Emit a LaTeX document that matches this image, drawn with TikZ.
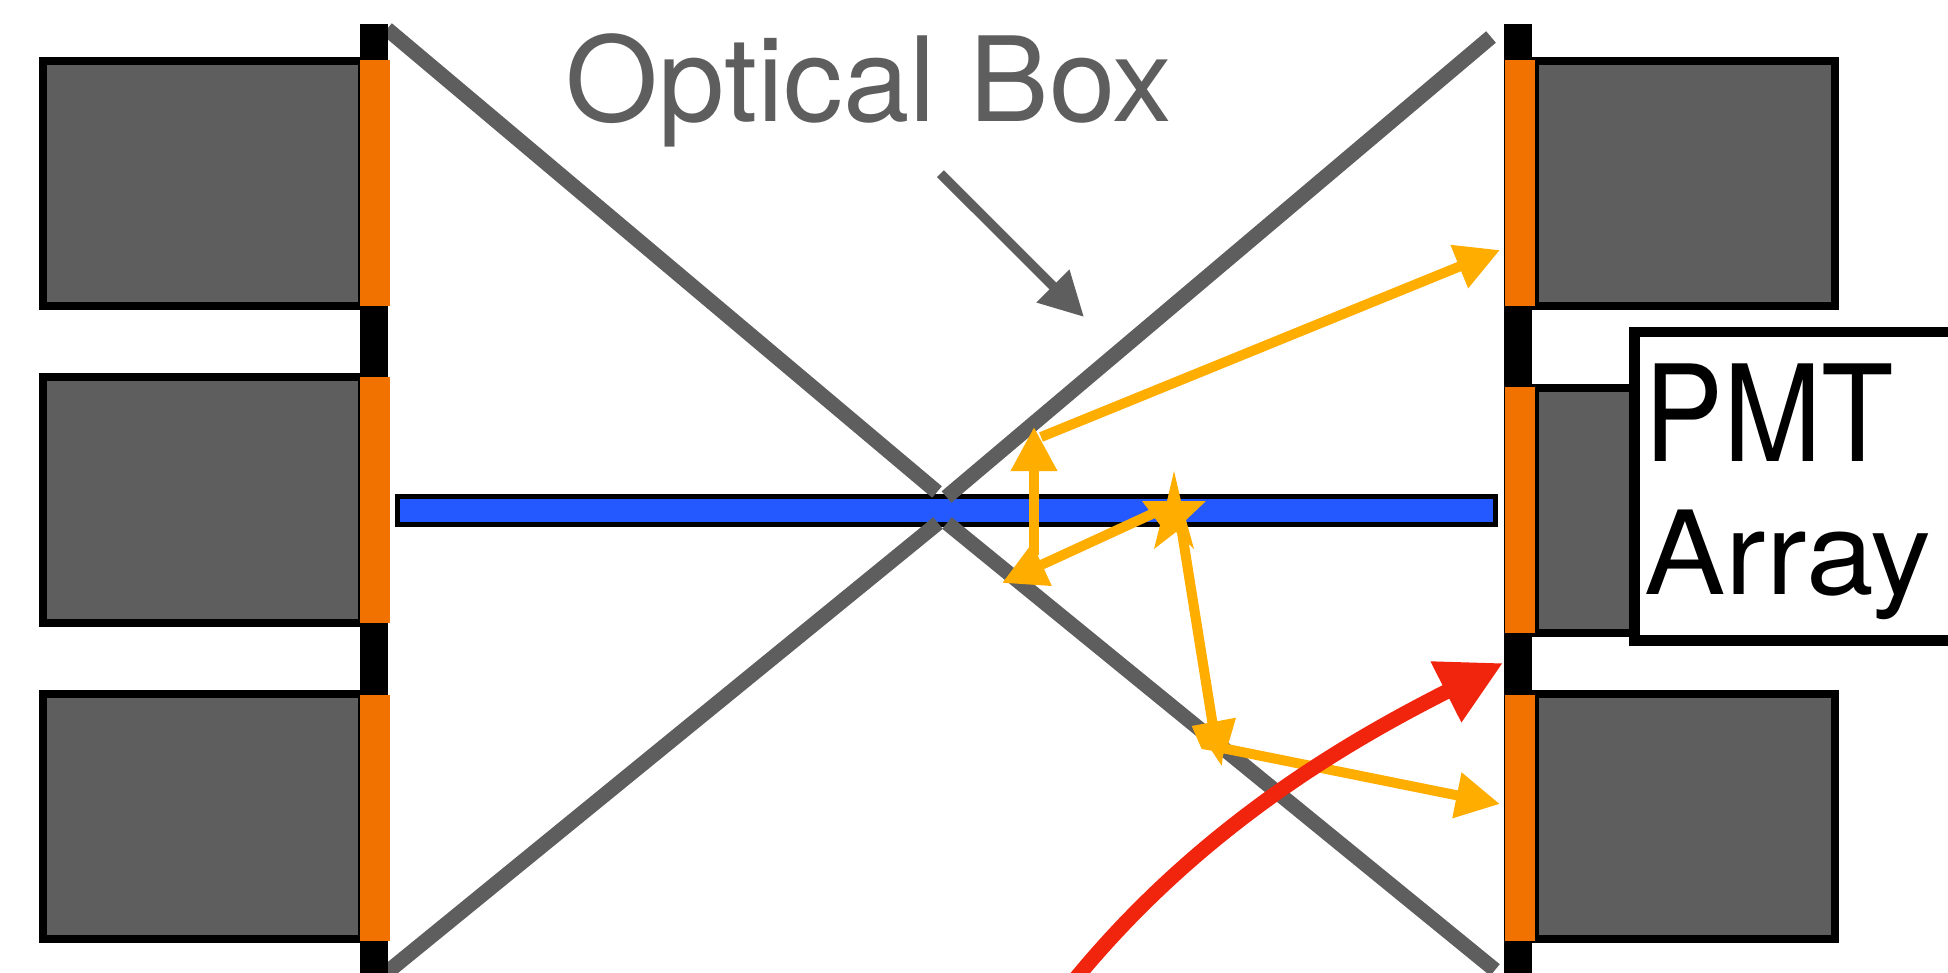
\documentclass[tikz,border=0pt]{standalone}
\usepackage{fontspec}
\setmainfont{TeX Gyre Heros}
\usetikzlibrary{arrows.meta}
\definecolor{cgray}{HTML}{5E5E5E}
\definecolor{corange}{HTML}{F27200}
\definecolor{cblue}{HTML}{2459FF}
\definecolor{cyellow}{HTML}{FFAE00}
\definecolor{cred}{HTML}{F1240D}
\tikzset{
  barst/.style={fill=black,draw=none},
  winst/.style={fill=corange,draw=none},
  pmtst/.style={fill=cgray,draw=black,line width=4pt},
  mirror/.style={draw=cgray,line width=7.5pt},
  rayline/.style={draw=cyellow,line width=5pt},
  ray/.style={rayline,-{Triangle[length=22pt,width=22pt]},color=cyellow},
  rayhead/.style={fill=cyellow,draw=none},
}
\begin{document}
\begin{tikzpicture}[x=0.5pt,y=-0.5pt]
\clip (0,0) rectangle (1948,973);
\fill[white] (0,0) rectangle (1948,973);
% blue plate
\draw[fill=cblue,draw=black,line width=2.65pt] (397.5,496.5) rectangle (1495.5,524.5);
% mirrors
\coordinate (la) at (387,29);
\coordinate (lb) at (937,492);
\coordinate (ra) at (1491,37);
\coordinate (rb) at (946.5,497);
\coordinate (lc) at (380,978);
\coordinate (ld) at (938,523);
\coordinate (rc) at (947,523);
\coordinate (rd) at (1495,970);
\draw[mirror] (la) -- (lb);
\draw[mirror] (ra) -- (rb);
\draw[mirror] (lc) -- (ld);
\draw[mirror] (rc) -- (rd);
% gray boxes
\foreach \ya/\yb in {61/306,376.5/623,694/939}{
  \draw[pmtst] (43,\ya) rectangle (362,\yb);
}
\foreach \ya/\yb in {61/306,388/633,694/939}{
  \draw[pmtst] (1535,\ya) rectangle (1835,\yb);
}
% bars
\fill[barst] (360,24) rectangle (388,973);
\fill[barst] (1504,24) rectangle (1532,973);
% windows
\foreach \ya/\yb in {60/306,377/623,695/941}{\fill[winst] (360,\ya) rectangle (390,\yb);}
\foreach \ya/\yb in {60/306,387/633,695/941}{\fill[winst] (1505,\ya) rectangle (1535,\yb);}
% text
\node[anchor=base west,inner sep=0pt,text=cgray,font=\fontsize{58.8}{59}\selectfont,xscale=1.015,transform shape] (optbox) at (565,121.7) {Optical Box};
\coordinate (pa) at (940.4,173.7);
\coordinate (pb) at (1084,317);
\draw[draw=cgray,line width=4.8pt,-{Triangle[length=22pt,width=22pt]},color=cgray] (pa) -- (pb);
% rays
\coordinate (s1) at (1034,555);
\coordinate (t1) at (1034,427);
\coordinate (s2) at (1041,437);
\coordinate (t2) at (1500,250);
\coordinate (s3) at (1165,508);
\coordinate (t3) at (1002,583);
\coordinate (s4) at (1180,520);
\coordinate (t4) at (1216,745);
\coordinate (s5) at (1222,748);
\coordinate (t5) at (1500,804);
\draw[ray] (s1) -- (t1);
\draw[ray] (s2) -- (t2);
\draw[ray] (s3) -- (t3);
\draw[rayline] (s4) -- (t4);
\draw[ray] (s5) -- (t5);
\fill[rayhead] (1174,471) -- (1181,501) -- (1206,501) -- (1186,520) -- (1194,549) -- (1176,532) -- (1154,549) -- (1160,525) -- (1142,501) -- (1167,501) -- cycle;
\fill[rayhead] (1191.7,726) -- (1236,717.7) -- (1228,745) -- (1223,755) -- (1221.7,765.7) -- (1211.7,750.7) -- (1201.7,749) -- cycle;
% red curve
\coordinate (rs) at (1068,988);
\coordinate (rt) at (1503,663);
\draw[draw=cred,line width=7.5pt,-{Triangle[length=32pt,width=32pt]},color=cred] (rs) .. controls (1198,826) and (1353,739) .. (rt);
% PMT label
\draw[fill=white,draw=black,line width=5.25pt] (1634.5,332) rectangle (1975,640.5);
\node[anchor=base west,inner sep=0pt,font=\fontsize{67}{67}\selectfont,xscale=.883,transform shape] (pmtlabel) at (1644,461.7) {PMT};
\node[anchor=base west,inner sep=0pt,font=\fontsize{58}{58}\selectfont,xscale=1.05,transform shape] (arraylabel) at (1644,594) {Array};
\end{tikzpicture}
\end{document}
